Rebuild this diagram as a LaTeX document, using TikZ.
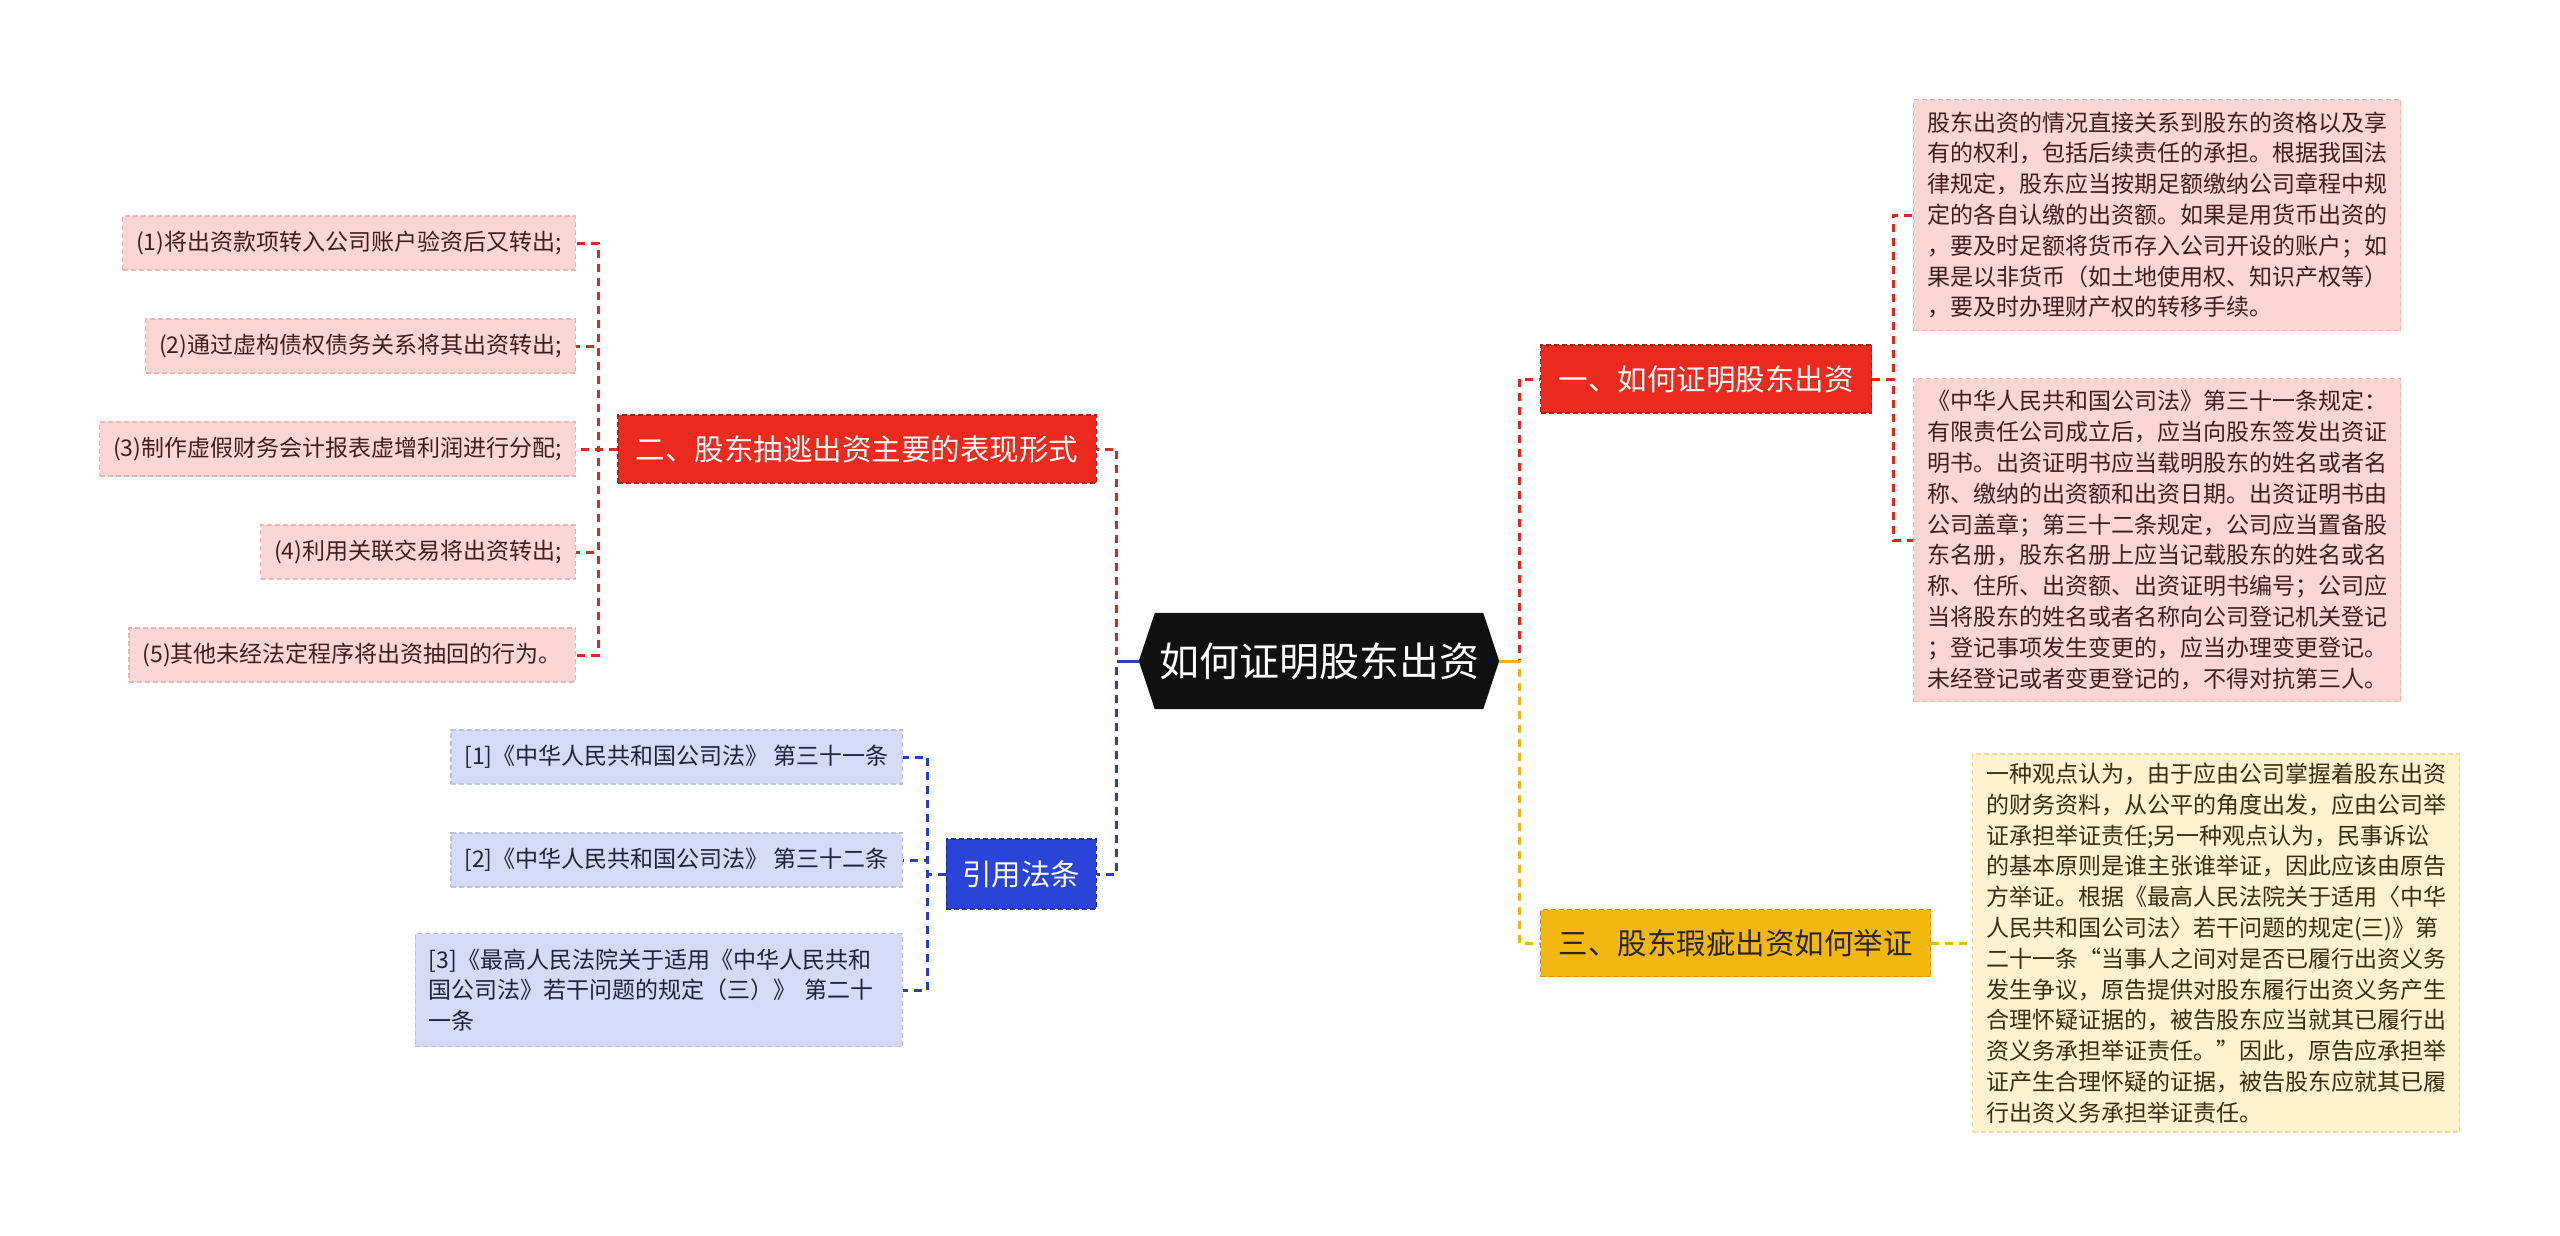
\documentclass[tikz,border=0pt]{standalone}
\usepackage{fontspec}
\setmainfont{Noto Sans CJK SC}
\usepackage{xcolor}
\usetikzlibrary{backgrounds}

\definecolor{rootfill}{HTML}{111111}
\definecolor{redfill}{HTML}{EC2B1E}
\definecolor{redborder}{HTML}{B51A10}
\definecolor{redline}{HTML}{D42A20}
\definecolor{pinkfill}{HTML}{FCD6D4}
\definecolor{pinkborder}{HTML}{F2B4B0}
\definecolor{pinktext}{HTML}{3E1F1E}
\definecolor{yellowfill}{HTML}{F3B70F}
\definecolor{yellowborder}{HTML}{C99300}
\definecolor{yellowline}{HTML}{EDB51A}
\definecolor{creamfill}{HTML}{FEF2CF}
\definecolor{creamborder}{HTML}{EEDCA2}
\definecolor{creamtext}{HTML}{3A2E10}
\definecolor{bluefill}{HTML}{2A44D9}
\definecolor{blueborder}{HTML}{1A2C9A}
\definecolor{blueline}{HTML}{2A3FB8}
\definecolor{lavfill}{HTML}{D5DAF6}
\definecolor{lavborder}{HTML}{B8C0EE}
\definecolor{lavtext}{HTML}{1E2240}

\begin{document}
\begin{tikzpicture}[x=1pt, y=-1pt,
  box/.style={inner ysep=0pt, dash pattern=on 5pt off 3pt, line width=1.2pt},
  topic/.style={box, inner xsep=18pt, minimum height=68pt, font=\fontsize{29.5}{35}\selectfont},
  leaf/.style={box, inner xsep=13.5pt, font=\fontsize{23}{30.8}\selectfont},
  redtopic/.style={topic, fill=redfill, draw=redborder, text=white},
  yellowtopic/.style={topic, fill=yellowfill, draw=yellowborder, text=black!85},
  bluetopic/.style={topic, fill=bluefill, draw=blueborder, text=white},
  pinkleaf/.style={leaf, fill=pinkfill, draw=pinkborder, text=pinktext},
  creamleaf/.style={leaf, fill=creamfill, draw=creamborder, text=creamtext},
  lavleaf/.style={leaf, fill=lavfill, draw=lavborder, text=lavtext},
  link/.style={line width=3pt, dash pattern=on 8pt off 6pt},
  redlink/.style={link, draw=redline},
  yellowlink/.style={link, draw=yellowline},
  bluelink/.style={link, draw=blueline}
]

\def \tip {16}

\useasboundingbox (0,0) rectangle (2560,1235);
\begin{scope}[on background layer]
  \fill[white] (0,0) rectangle (2560,1235);
\end{scope}

% root
\node[text=white, minimum width=360pt, minimum height=96pt,
  font=\fontsize{40}{46}\selectfont] (root) at (1319,661) {如何证明股东出资};
\begin{scope}[on background layer]
  \fill[rootfill] (root.west) -- ([xshift=\tip pt]root.north west)
    -- ([xshift=-\tip pt]root.north east) -- (root.east)
    -- ([xshift=-\tip pt]root.south east) -- ([xshift=\tip pt]root.south west) -- cycle;
\end{scope}

% main branches
\node[redtopic, anchor=west] (n1) at (1540,379) {一、如何证明股东出资};
\node[redtopic, anchor=east] (n2) at (1097,449) {二、股东抽逃出资主要的表现形式};
\node[yellowtopic, anchor=west, minimum height=67pt] (n3) at (1540,943) {三、股东瑕疵出资如何举证};
\node[bluetopic, anchor=east, minimum height=70pt, inner xsep=16pt] (n4) at (1097,874) {引用法条};

\draw[redlink] (root.west) -- ++(-22,0) |- (n2.east);
\draw[bluelink] (root.west) -- ++(-22,0) |- (n4.east);
\draw[blueline, line width=3pt] (root.west) -- ++(-22,0);
\draw[redlink] (root.east) -- ++(20,0) |- (n1.west);
\draw[yellowlink] (root.east) -- ++(20,0) |- (n3.west);
\draw[yellowline, line width=3pt] (root.east) -- ++(20,0);

% branch one
\node[pinkleaf, anchor=west, minimum height=231pt, text width=460pt, align=left] (r1) at (1913,215) {%
股东出资的情况直接关系到股东的资格以及享\\
有的权利，包括后续责任的承担。根据我国法\\
律规定，股东应当按期足额缴纳公司章程中规\\
定的各自认缴的出资额。如果是用货币出资的\\
，要及时足额将货币存入公司开设的账户；如\\
果是以非货币（如土地使用权、知识产权等）\\
，要及时办理财产权的转移手续。};
\node[pinkleaf, anchor=west, minimum height=323pt, text width=460pt, align=left] (r2) at (1913,540) {%
《中华人民共和国公司法》第三十一条规定：\\
有限责任公司成立后，应当向股东签发出资证\\
明书。出资证明书应当载明股东的姓名或者名\\
称、缴纳的出资额和出资日期。出资证明书由\\
公司盖章；第三十二条规定，公司应当置备股\\
东名册，股东名册上应当记载股东的姓名或名\\
称、住所、出资额、出资证明书编号；公司应\\
当将股东的姓名或者名称向公司登记机关登记\\
；登记事项发生变更的，应当办理变更登记。\\
未经登记或者变更登记的，不得对抗第三人。};
\draw[redlink] (n1.east) -- ++(21,0) |- (r1.west);
\draw[redlink] (n1.east) -- ++(21,0) |- (r2.west);

% branch two
\foreach \t/\y [count=\s] in {{(1)将出资款项转入公司账户验资后又转出;}/243,
  {(2)通过虚构债权债务关系将其出资转出;}/346,
  {(3)制作虚假财务会计报表虚增利润进行分配;}/449,
  {(4)利用关联交易将出资转出;}/552,
  {(5)其他未经法定程序将出资抽回的行为。}/655}
{
  \node[pinkleaf, anchor=east, minimum height=54pt] (l\s) at (576,\y) {\t};
  \draw[redlink] (n2.west) -- ++(-19,0) |- (l\s.east);
}

% branch three
\node[creamleaf, anchor=west, minimum height=378pt, text width=460pt, align=left] (r3) at (1972,943) {%
一种观点认为，由于应由公司掌握着股东出资\\
的财务资料，从公平的角度出发，应由公司举\\
证承担举证责任;另一种观点认为，民事诉讼\\
的基本原则是谁主张谁举证，因此应该由原告\\
方举证。根据《最高人民法院关于适用〈中华\\
人民共和国公司法〉若干问题的规定(三)》第\\
二十一条“当事人之间对是否已履行出资义务\\
发生争议，原告提供对股东履行出资义务产生\\
合理怀疑证据的，被告股东应当就其已履行出\\
资义务承担举证责任。”因此，原告应承担举\\
证产生合理怀疑的证据，被告股东应就其已履\\
行出资义务承担举证责任。};
\draw[yellowlink] (n3.east) -- (r3.west);

% references
\node[lavleaf, anchor=east, minimum height=54pt] (b1) at (903,757) {[1]《中华人民共和国公司法》 第三十一条};
\node[lavleaf, anchor=east, minimum height=54pt] (b2) at (903,860) {[2]《中华人民共和国公司法》 第三十二条};
\node[lavleaf, anchor=east, minimum height=113pt, text width=460pt, align=left] (b3) at (903,990) {%
[3]《最高人民法院关于适用《中华人民共和\\
国公司法》若干问题的规定（三）》 第二十\\
一条};
\foreach \s in {1,2,3}
  \draw[bluelink] (n4.west) -- ++(-18,0) |- (b\s.east);

\end{tikzpicture}
\end{document}
